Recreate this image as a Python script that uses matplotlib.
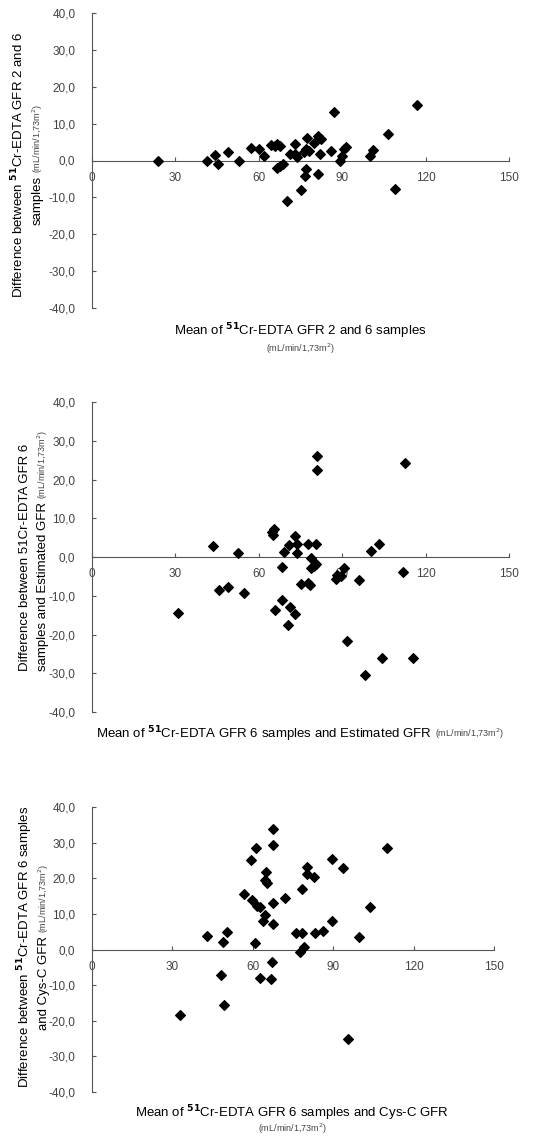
import numpy as np
import matplotlib.pyplot as plt

# --- Data ---
# Panel 1: 2 vs 6 samples
mean_2v6 = [23.8, 41.3, 44.1, 45.3, 48.8, 52.7, 57.1, 60.1, 62.0, 64.4, 65.9, 66.7,
            67.6, 66.6, 67.8, 68.7, 70.0, 71.4, 72.9, 73.2, 73.8, 75.1, 76.3, 76.7,
            77.0, 77.5, 77.0, 77.9, 79.7, 81.4, 82.3, 81.4, 81.9, 86.0, 87.2, 89.2,
            90.1, 90.6, 91.4, 100.1, 100.9, 106.3, 108.9, 117.0]
diff_2v6 = [0.0, -0.2, 1.4, -1.0, 2.3, -0.1, 3.3, 3.2, 1.2, 4.3, 3.9, 4.4,
            3.9, -2.0, -1.4, -1.0, -10.9, 1.7, 4.6, 1.7, 1.0, -7.9, 2.3, -4.2,
            -2.4, 6.1, 3.0, 2.7, 4.8, 6.6, 5.9, -3.6, 1.8, 2.6, 13.1, -0.2,
            1.2, 3.1, 3.7, 1.3, 2.8, 7.1, -7.7, 15.0]

# Panel 2: 6 samples vs estimated GFR
mean_est = [31.1, 43.5, 45.8, 48.8, 52.6, 54.6, 64.6, 65.4, 65.2, 66.0, 68.2, 68.2,
            69.1, 70.8, 70.4, 71.2, 72.9, 72.9, 73.8, 73.8, 75.0, 77.8, 77.8, 78.4,
            78.8, 78.7, 79.9, 80.6, 80.6, 81.1, 81.1, 87.6, 88.1, 89.4, 90.6, 91.6,
            96.1, 98.2, 100.4, 103.3, 104.3, 111.8, 112.5, 115.3]
diff_est = [-14.4, 2.9, -8.4, -7.7, 1.1, -9.4, 6.4, 7.1, 5.8, -13.8, -2.7, -11.1,
            1.4, 3.0, -17.5, -13.0, 5.4, -14.6, 3.4, 1.0, -7.0, 3.3, -6.7, -7.3,
            -0.2, -2.8, -2.3, -1.8, 3.4, 26.1, 22.4, -5.7, -4.6, -4.9, -2.8, -21.8,
            -6.0, -30.4, 1.5, 3.3, -26.1, -3.9, 24.2, -26.1]

# Panel 3: 6 samples vs Cys-C GFR
mean_cys = [32.9, 42.8, 48.3, 48.8, 49.2, 50.4, 56.7, 59.5, 59.7, 60.9, 61.2, 61.7,
            62.8, 62.8, 63.8, 64.8, 64.7, 65.2, 64.7, 66.7, 67.1, 67.6, 67.4, 67.4,
            67.7, 72.1, 76.1, 77.6, 78.3, 78.3, 79.1, 80.3, 80.3, 82.9, 83.2, 86.3,
            89.4, 89.5, 93.5, 95.4, 99.6, 103.7, 110.1]
diff_cys = [-18.3, 3.8, -7.2, 2.0, -15.5, 4.9, 15.7, 25.2, 13.9, 1.7, 28.5, 12.3,
            12.0, -8.1, 7.9, 21.7, 19.5, 18.6, 9.7, -8.4, -3.5, 33.8, 29.3, 13.1,
            7.2, 14.5, 4.5, -0.8, 17.0, 4.6, 0.7, 23.1, 21.1, 20.3, 4.5, 5.2,
            25.4, 7.9, 22.9, -25.2, 3.4, 11.8, 28.5]

x_ticks = [0, 30, 60, 90, 120, 150]
y_ticks = [-40, -30, -20, -10, 0, 10, 20, 30, 40]
y_tick_labels = [f"{v:.1f}".replace('.', ',') for v in y_ticks]

units = '(mL/min/1,73m$^2$)'

W, H = 558, 1139
fig = plt.figure(figsize=(W / 100, H / 100), dpi=100)
plt.rcParams['font.family'] = ['Liberation Sans', 'DejaVu Sans']
renderer = fig.canvas.get_renderer()

AX_COL = '#555555'
TXT_COL = '#444444'
FS = 9.5
FS_U = 6.5


def make_panel(rect, xs, ys):
    # rect in pixels: left, top, right, bottom
    l, t, r, b = rect
    ax = fig.add_axes([l / W, 1 - b / H, (r - l) / W, (b - t) / H])
    ax.scatter(xs, ys, marker='D', s=24, color='black', zorder=3, clip_on=False)
    ax.set_xlim(0, 150)
    ax.set_ylim(-40, 40)
    for s in ['top', 'right']:
        ax.spines[s].set_visible(False)
    ax.spines['bottom'].set_position(('data', 0))
    ax.spines['bottom'].set_color(AX_COL)
    ax.spines['left'].set_color(AX_COL)
    ax.set_xticks(x_ticks)
    ax.set_yticks(y_ticks)
    ax.set_yticklabels(y_tick_labels)
    ax.tick_params(direction='in', length=3, width=0.8, color=AX_COL,
                   labelcolor=TXT_COL, labelsize=8.5)
    ax.tick_params(axis='x', pad=8)
    ax.tick_params(axis='y', pad=12)
    ax.patch.set_visible(False)
    return ax


def text_run(cx, cy, parts, vertical=False):
    # place text pieces one after another, centred on (cx, cy) in pixels
    widths = []
    for s, fs, col in parts:
        t = fig.text(0, 0, s, fontsize=fs)
        widths.append(t.get_window_extent(renderer).width)
        t.remove()
    gap = 3
    total = sum(widths) + gap * (len(parts) - 1)
    pos = -total / 2
    for (s, fs, col), w in zip(parts, widths):
        if vertical:
            x, y = cx, cy - pos
            fig.text(x / W, 1 - y / H, s, fontsize=fs, color=col, rotation=90,
                     rotation_mode='anchor', ha='left', va='center')
        else:
            x, y = cx + pos, cy
            fig.text(x / W, 1 - y / H, s, fontsize=fs, color=col,
                     ha='left', va='center')
        pos += w + gap


sup = r'$^{\mathbf{51}}$'

# Panel 1
make_panel((92, 13, 509, 308), mean_2v6, diff_2v6)
text_run(18, 165, [('Difference between ' + sup + 'Cr-EDTA GFR 2 and 6', FS, 'black')],
         vertical=True)
text_run(38, 165, [('samples', FS, 'black'), (units, FS_U, TXT_COL)], vertical=True)
text_run(300, 331, [('Mean of ' + sup + 'Cr-EDTA GFR 2 and 6 samples', FS, 'black')])
text_run(300, 349, [(units, FS_U, TXT_COL)])

# Panel 2
make_panel((92, 402, 509, 712), mean_est, diff_est)
text_run(25, 557, [('Difference between 51Cr-EDTA GFR 6', FS, 'black')], vertical=True)
text_run(43, 551, [('samples and Estimated GFR', FS, 'black'), (units, FS_U, TXT_COL)],
         vertical=True)
text_run(300, 734, [('Mean of ' + sup + 'Cr-EDTA GFR 6 samples and Estimated GFR', FS, 'black'),
                    (units, FS_U, TXT_COL)])

# Panel 3
make_panel((92, 807, 494, 1092), mean_cys, diff_cys)
text_run(25, 947, [('Difference between ' + sup + 'Cr-EDTA GFR 6 samples', FS, 'black')],
         vertical=True)
text_run(44, 947, [('and Cys-C GFR', FS, 'black'), (units, FS_U, TXT_COL)], vertical=True)
text_run(292, 1113, [('Mean of ' + sup + 'Cr-EDTA GFR 6 samples and Cys-C GFR', FS, 'black')])
text_run(292, 1129, [(units, FS_U, TXT_COL)])

fig.savefig('out.png', dpi=100)
